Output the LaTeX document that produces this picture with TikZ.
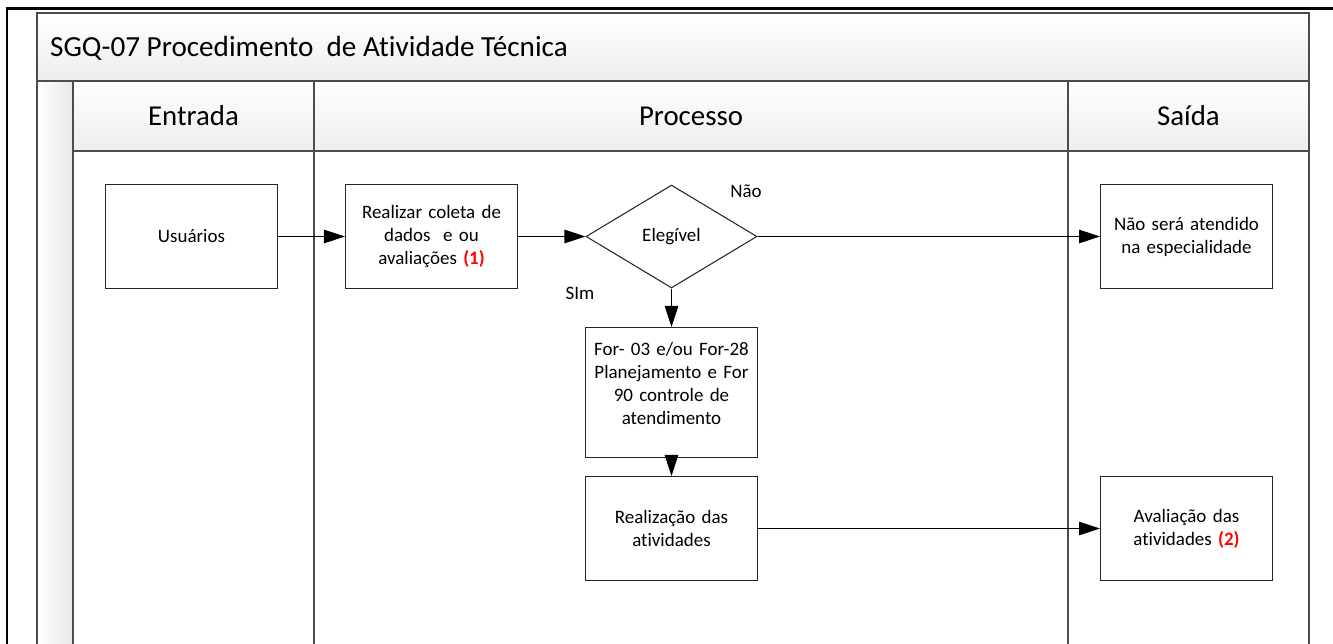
\documentclass[tikz,border=0pt]{standalone}
\usepackage{fontspec}
\setmainfont{Carlito}[Ligatures=CommonOff]
\usetikzlibrary{shapes.geometric,arrows.meta,positioning}

\begin{document}
\begin{tikzpicture}[x=0.02cm, y=-0.02cm,
	box/.style = {rectangle, draw=black!85, line width=0.6pt, fill=white, minimum width=3.44cm, minimum height=2.08cm, text width=3.3cm, align=center, inner sep=0pt, font=\fontsize{10.8}{13.1}\selectfont},
	decision/.style = {diamond, draw=black!85, line width=0.6pt, fill=white, minimum width=3.42cm, minimum height=2.06cm, inner sep=0pt, font=\fontsize{10.8}{13.1}\selectfont},
	lane/.style = {draw=black!70, line width=1.1pt},
	head/.style = {lane, top color=white, bottom color=black!7},
	lbl/.style = {font=\fontsize{10.8}{13.1}\selectfont},
	flow/.style = {-{Triangle[length=0.42cm, width=0.27cm]}, line width=0.6pt}]
	\useasboundingbox (0,0) rectangle (1333,643);
	% pool and lanes
	\shade[left color=white, right color=black!9] (37,81) rectangle (73,650);
	\draw[head] (37,13) rectangle (1309,81);
	\draw[head] (73,81) rectangle (314,151);
	\draw[head] (314,81) rectangle (1068,151);
	\draw[head] (1068,81) rectangle (1309,151);
	\draw[lane] (37,81) -- (37,650);
	\foreach \x in {73,314,1068,1309}
		\draw[lane] (\x,151) -- (\x,650);
	\draw[line width=0.06cm] (7,650) -- (7,8) -- (1340,8);
	% titles
	\node[anchor=west, font=\fontsize{16.6}{19}\selectfont] (title) at (44,48) {SGQ-07 Procedimento\ \ de Atividade Técnica};
	\node[font=\fontsize{16.4}{19}\selectfont] (entrada) at (193.5,116) {Entrada};
	\node[font=\fontsize{16.4}{19}\selectfont] (processo) at (691,116) {Processo};
	\node[font=\fontsize{16.4}{19}\selectfont] (saida) at (1188.5,116) {Saída};
	% steps
	\node[box] (usu) at (191.5,236.5) {Usuários};
	\node[box] (real) at (431.5,236.5) {Realizar coleta de\\dados\ \ e ou\\avaliações {\color{red}\bfseries(1)}};
	\node[decision] (dia) at (671.5,236.5) {Elegível};
	\node[box, minimum height=2.6cm] (form) at (671.5,392.5) {For- 03 e/ou For-28\\Planejamento e For\\90 controle de\\atendimento\\[-3pt]\mbox{}};
	\node[box] (exec) at (671.5,528.5) {Realização das\\atividades};
	\node[box] (naoser) at (1186.5,236.5) {Não será atendido\\na especialidade};
	\node[box] (aval) at (1186.5,528.5) {Avaliação das\\atividades {\color{red}\bfseries(2)}};
	\node[lbl] (nao) at (746,191) {Não};
	\node[lbl] (sim) at (580,293) {SIm};
	\path[flow]
		(usu) edge (real)
		(real) edge (dia)
		(dia) edge (naoser)
		(dia) edge (form)
		(form) edge (exec)
		(exec) edge (aval);
\end{tikzpicture}
\end{document}
